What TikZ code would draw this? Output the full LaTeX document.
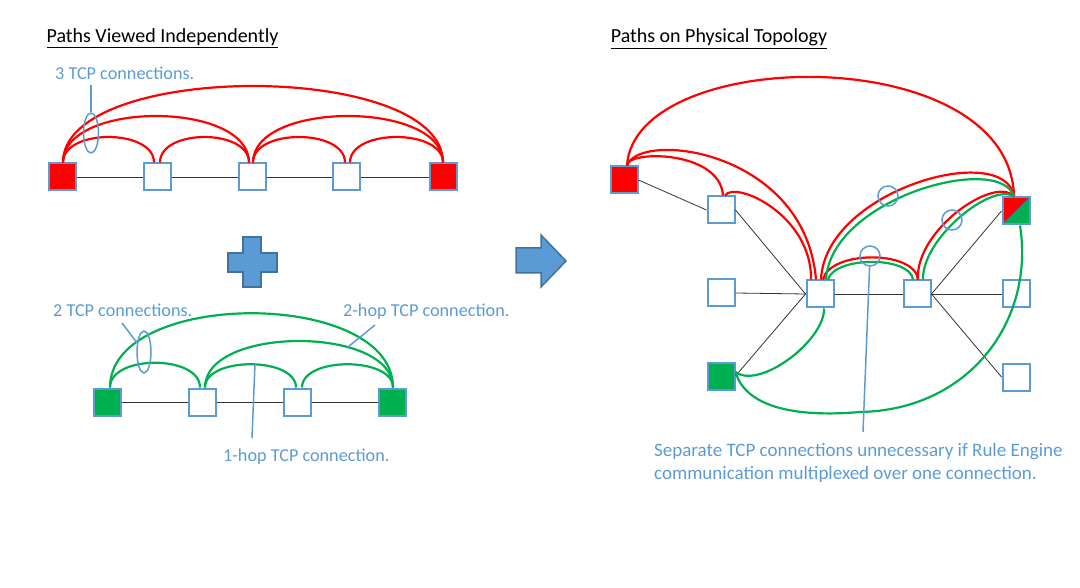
\documentclass[tikz,border=0pt]{standalone}
\usepackage{fontspec}
\setmainfont{Carlito}
\usepackage{tikz}
\usetikzlibrary{shapes.geometric}

\definecolor{tcpblue}{RGB}{91,155,213}
\definecolor{tcpedge}{RGB}{65,113,156}
\definecolor{tcpred}{RGB}{255,0,0}
\definecolor{tcpgreen}{RGB}{0,176,80}

\tikzset{
  host/.style={draw=tcpblue, line width=2pt, fill=white, minimum size=27pt, inner sep=0pt},
  redhost/.style={host, fill=tcpred},
  greenhost/.style={host, fill=tcpgreen},
  link/.style={black!80, line width=0.8pt},
  redarc/.style={tcpred, line width=2.2pt},
  greenarc/.style={tcpgreen, line width=2.2pt},
  callout/.style={tcpblue, line width=1.5pt},
  ring/.style={circle, draw=tcpblue, line width=1.5pt, minimum size=20pt, inner sep=0pt},
  oval/.style={ellipse, draw=tcpblue, line width=1.5pt, inner sep=0pt},
  note/.style={text=tcpblue, inner sep=0pt, font=\fontsize{18.2}{23}\selectfont},
  bignote/.style={note, font=\fontsize{19}{23}\selectfont},
  heading/.style={inner sep=0pt, font=\fontsize{20}{24}\selectfont},
  bigsign/.style={fill=tcpblue, draw=tcpedge, line width=1.5pt}
}

\begin{document}
\begin{tikzpicture}[x=1pt,y=1pt,yscale=-1,xscale=1]
\useasboundingbox (0,0) rectangle (1080,588);

% Text Node
\node (t1) [heading, anchor=base] at (162.5,43) {\underline{Paths Viewed Independently}};
% Text Node
\node (t2) [heading, anchor=base] at (719,43) {\underline{Paths on Physical Topology}};

%Shape: Square row (red paths)
\node (s1) [redhost] at (62,177) {};
\node (s2) [host] at (157,177) {};
\node (s3) [host] at (252,177) {};
\node (s4) [host] at (346,177) {};
\node (s5) [redhost] at (443,177) {};
\draw [link] (s1) -- (s2) -- (s3) -- (s4) -- (s5);

\draw [redarc] ([xshift=1pt]s1.north) .. controls +(0,-34) and +(0,-34) .. ([xshift=-3pt]s2.north);
\draw [redarc] ([xshift=1pt]s1.north) .. controls +(0,-62) and +(0,-62) .. ([xshift=-3pt]s3.north);
\draw [redarc] ([xshift=1pt]s1.north) .. controls +(0,-102) and +(0,-102) .. (s5.north);
\draw [redarc] ([xshift=3pt]s2.north) .. controls +(0,-34) and +(0,-34) .. ([xshift=-3pt]s3.north);
\draw [redarc] ([xshift=1pt]s3.north) .. controls +(0,-34) and +(0,-34) .. ([xshift=-1pt]s4.north);
\draw [redarc] ([xshift=1pt]s3.north) .. controls +(0,-62) and +(0,-62) .. (s5.north);
\draw [redarc] ([xshift=4pt]s4.north) .. controls +(0,-34) and +(0,-34) .. (s5.north);

%Shape: Ellipse callout
\node (e1) [oval, minimum width=15pt, minimum height=40pt] at (91,133) {};
\coordinate (k1) at (91,85);
\draw [callout] (e1) -- (k1);
% Text Node
\node (l1) [note, anchor=base west] at (55,80) {3 TCP connections.};

%Shape: Plus
\draw [bigsign] (243,237) -- (261,237) -- (261,253) -- (277,253) -- (277,272) -- (261,272) -- (261,287) -- (243,287) -- (243,272) -- (228,272) -- (228,253) -- (243,253) -- cycle;

%Shape: Square row (green paths)
\node (g1) [greenhost] at (107,402) {};
\node (g2) [host] at (202,402) {};
\node (g3) [host] at (297,402) {};
\node (g4) [greenhost] at (392,402) {};
\draw [link] (g1) -- (g2) -- (g3) -- (g4);

\draw [greenarc] ([xshift=3pt]g1.north) .. controls +(0,-33) and +(0,-33) .. ([xshift=-2pt]g2.north);
\draw [greenarc] ([xshift=3pt]g1.north) .. controls +(0,-99) and +(0,-99) .. ([xshift=1pt]g4.north);
\draw [greenarc] ([xshift=3pt]g2.north) .. controls +(0,-62) and +(0,-62) .. ([xshift=1pt]g4.north);
\draw [greenarc] ([xshift=3pt]g2.north) .. controls +(0,-31) and +(0,-31) .. ([xshift=-1pt]g3.north);
\draw [greenarc] ([xshift=5pt]g3.north) .. controls +(0,-31) and +(0,-31) .. ([xshift=1pt]g4.north);

%Shape: Ellipse callout
\node (e2) [oval, minimum width=14pt, minimum height=42pt] at (144,352) {};
\coordinate (k2) at (122,323);
\draw [callout] (k2) -- (e2);
\coordinate (k3) at (375,325);
\coordinate (k4) at (348,347);
\draw [callout] (k3) -- (k4);
\coordinate (k5) at (255,364);
\coordinate (k6) at (252,438);
\draw [callout] (k5) -- (k6);
% Text Node
\node (l2) [note, anchor=base west] at (53,317) {2 TCP connections.};
% Text Node
\node (l3) [note, anchor=base west] at (343,317) {2-hop TCP connection.};
% Text Node
\node (l4) [note, anchor=base west] at (223,461) {1-hop TCP connection.};

%Shape: Right Arrow
\draw [bigsign] (516,248) -- (541,248) -- (541,235) -- (566,261) -- (541,287) -- (541,273) -- (516,273) -- cycle;

%Shape: Physical topology
\node (r1) [redhost] at (624,180) {};
\node (a) [host] at (721,210) {};
\node (b) [host] at (721,293) {};
\node (c) [host] at (820,294) {};
\node (d) [host] at (917,294) {};
\node (rg) [host, path picture={
    \fill [tcpred] (path picture bounding box.north west) -- (path picture bounding box.north east) -- (path picture bounding box.south west) -- cycle;
    \fill [tcpgreen] (path picture bounding box.north east) -- (path picture bounding box.south east) -- (path picture bounding box.south west) -- cycle;
    \draw [tcpedge, line width=1pt] (path picture bounding box.south west) -- (path picture bounding box.north east);}] at (1016,211) {};
\node (e) [host] at (1016,294) {};
\node (g) [greenhost] at (721,376) {};
\node (f) [host] at (1016,377) {};

\draw [link] (r1.east) -- (a.west);
\draw [link] (a.east) -- (c.west);
\draw [link] (b.east) -- (c.west);
\draw [link] (g.east) -- (c.west);
\draw [link] (c.east) -- (d.west);
\draw [link] (d.east) -- (rg.west);
\draw [link] (d.east) -- (e.west);
\draw [link] (d.east) -- (f.west);

% red paths
\draw [redarc] ([xshift=3pt]r1.north) .. controls (635,45) and (1010,40) .. ([xshift=-2pt]rg.north);
\draw [redarc] ([xshift=3pt]r1.north) .. controls (640,130) and (805,150) .. ([xshift=-4pt]c.north);
\draw [redarc] ([xshift=3pt]r1.north) .. controls (627,150) and (720,150) .. ([xshift=2pt]a.north);
\draw [redarc] ([xshift=4pt]a.north) .. controls (735,180) and (812,215) .. ([xshift=-9pt]c.north);
\draw [redarc] ([xshift=1pt]c.north) .. controls (825,190) and (1005,140) .. ([xshift=-2pt]rg.north);
\draw [redarc] ([xshift=3pt]c.north) .. controls (830,250) and (915,250) .. ([xshift=1pt]d.north);
\draw [redarc] ([xshift=1pt]d.north) .. controls (915,230) and (995,175) .. ([xshift=-2pt]rg.north);

% green paths
\draw [greenarc] ([xshift=6pt]c.north) .. controls (831,198) and (1000,152) .. ([xshift=-2pt]rg.north);
\draw [greenarc] ([xshift=8pt]c.north) .. controls (835,256) and (910,256) .. ([xshift=-4pt]d.north);
\draw [greenarc] ([xshift=6pt]d.north) .. controls (922,238) and (992,182) .. ([xshift=-2pt]rg.north);
\draw [greenarc] ([yshift=-4pt]g.east) .. controls (760,390) and (825,340) .. ([xshift=4pt]c.south);
\draw [greenarc] ([yshift=-4pt]g.east) .. controls (745,405) and (790,418) .. (860,412) .. controls (970,410) and (1035,320) .. ([xshift=4pt]rg.south);

%Shape: Circle callouts
\node (o1) [ring] at (888,196) {};
\node (o2) [ring] at (952,220) {};
\node (o3) [ring] at (870,256) {};
\coordinate (k7) at (863,432);
\draw [callout] (o3) -- (k7);
% Text Node
\node (l6) [bignote, anchor=base west, align=left] at (654,479) {Separate TCP connections unnecessary if Rule Engine\\communication multiplexed over one connection.};

\end{tikzpicture}
\end{document}
